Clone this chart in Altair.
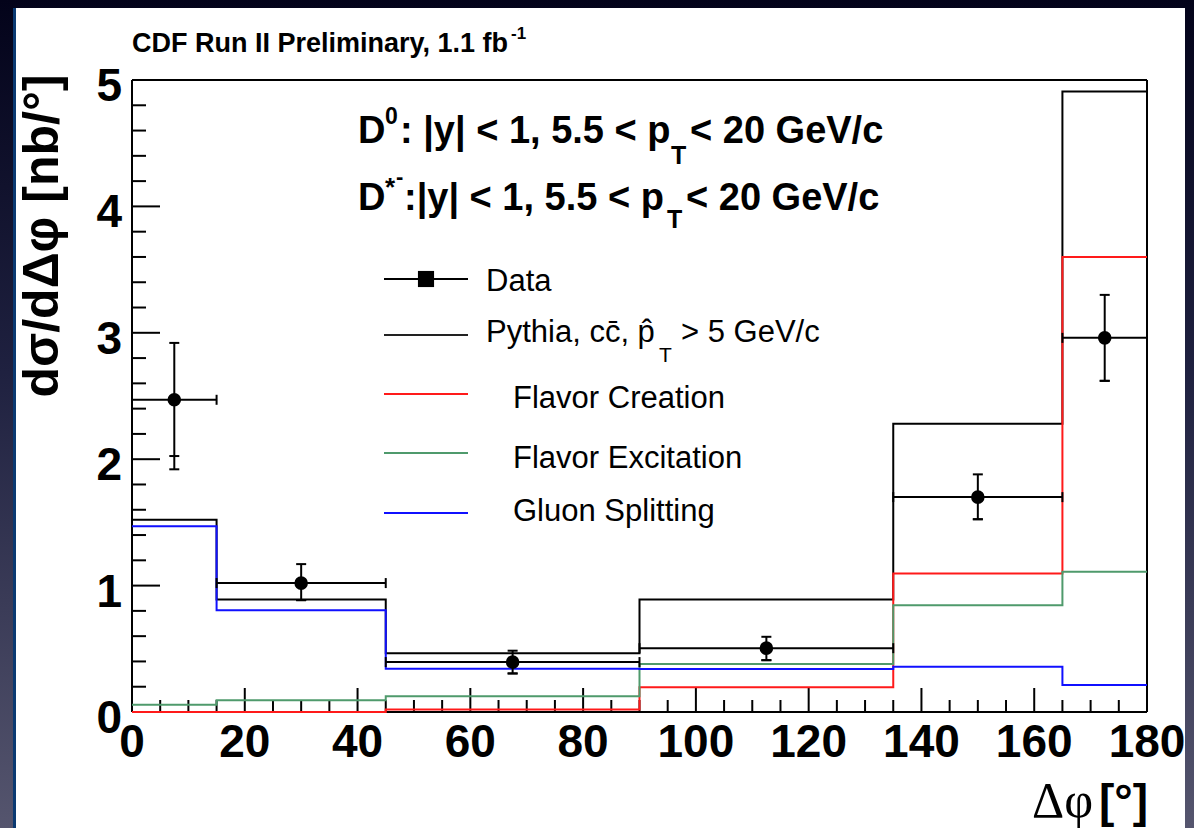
import altair as alt
import pandas as pd

SANS = "Liberation Sans, Arial, Helvetica, sans-serif"
SERIF = "Liberation Serif, Times New Roman, serif"

# Canvas and plot-area geometry (pixels)
CANVAS_W, CANVAS_H = 1194, 828
LEFT, TOP = 132, 80
W, H = 1015, 632

# Histogram binning in delta-phi (degrees)
bin_edges = [0, 15, 45, 90, 135, 165, 180]

# Pythia predictions per bin, d sigma / d delta-phi [nb/deg]
pythia_total = [1.52, 0.89, 0.465, 0.89, 2.28, 4.91]
flavor_creation = [0.0, 0.0, 0.02, 0.195, 1.095, 3.60]
flavor_excitation = [0.058, 0.093, 0.125, 0.38, 0.845, 1.11]
gluon_splitting = [1.47, 0.805, 0.343, 0.34, 0.358, 0.214]

# Measured cross section
data_x = [7.5, 30, 67.5, 112.5, 150, 172.5]
data_y = [2.47, 1.02, 0.395, 0.505, 1.70, 2.96]
data_hi = [2.92, 1.17, 0.485, 0.595, 1.88, 3.30]
data_lo = [2.025, 0.885, 0.305, 0.41, 1.525, 2.62]
data_lo_total = [1.92, 0.885, 0.305, 0.41, 1.525, 2.62]

# Axis ticks and their labels
x_tick_values = [0, 20, 40, 60, 80, 100, 120, 140, 160, 180]
x_tick_labels = ["0", "20", "40", "60", "80", "100", "120", "140", "160", "180"]
y_tick_values = [0, 1, 2, 3, 4, 5]
y_tick_labels = ["0", "1", "2", "3", "4", "5"]
x_minor_values = [v for v in range(5, 180, 5) if v % 20 != 0]
y_minor_values = [round(i * 0.2, 1) for i in range(1, 25) if i % 5 != 0]

COL_PYTHIA = "#000000"
COL_FC = "#ff1a1a"
COL_FE = "#4f9a6c"
COL_GS = "#1010ff"

xs = alt.Scale(domain=[0, 180], nice=False, zero=False)
ys = alt.Scale(domain=[0, 5], nice=False, zero=False)
one = pd.DataFrame({"k": [0]})


def px(x):
    return x - LEFT


def py(y):
    return y - TOP


def text(s, x, y, size, weight="normal", align="left", font=SANS, angle=0):
    return alt.Chart(one).mark_text(
        text=s, align=align, baseline="alphabetic", font=font,
        fontSize=size, fontWeight=weight, angle=angle, color="black",
    ).encode(x=alt.value(px(x)), y=alt.value(py(y)))


def box(x0, x1, y0, y1, fill):
    return alt.Chart(one).mark_rect(fill=fill, strokeWidth=0).encode(
        x=alt.value(px(x0)), x2=alt.value(px(x1)),
        y=alt.value(py(y0)), y2=alt.value(py(y1)),
    )


def hrule(x0, x1, y, color="black", width=2):
    return alt.Chart(one).mark_rule(color=color, strokeWidth=width).encode(
        x=alt.value(px(x0)), x2=alt.value(px(x1)), y=alt.value(py(y))
    )


# Slide background, accent strip and the white figure panel
gradient = {
    "gradient": "linear", "x1": 0, "y1": 0, "x2": 0, "y2": 1,
    "stops": [
        {"offset": 0, "color": "#03031a"},
        {"offset": 0.45, "color": "#1f2140"},
        {"offset": 1, "color": "#55556e"},
    ],
}
background = box(0, CANVAS_W, 0, CANVAS_H, gradient)
strip = box(13, 16, 8, CANVAS_H, "#0b3a72")
panel = box(16, 1185, 8, CANVAS_H, "#ffffff")

# Inward ticks on the bottom and left axes
x_major = alt.Chart(pd.DataFrame({"t": x_tick_values})).mark_rule(color="black", strokeWidth=2).encode(
    x=alt.X("t:Q", scale=xs, axis=None), y=alt.value(H), y2=alt.value(H - 24))
x_minor = alt.Chart(pd.DataFrame({"t": x_minor_values})).mark_rule(color="black", strokeWidth=2).encode(
    x=alt.X("t:Q", scale=xs, axis=None), y=alt.value(H), y2=alt.value(H - 12))
y_major = alt.Chart(pd.DataFrame({"t": y_tick_values})).mark_rule(color="black", strokeWidth=2).encode(
    y=alt.Y("t:Q", scale=ys, axis=None), x=alt.value(0), x2=alt.value(28))
y_minor = alt.Chart(pd.DataFrame({"t": y_minor_values})).mark_rule(color="black", strokeWidth=2).encode(
    y=alt.Y("t:Q", scale=ys, axis=None), x=alt.value(0), x2=alt.value(14))

# Tick labels placed through the same scales
x_labels = alt.Chart(pd.DataFrame({"t": x_tick_values, "lab": x_tick_labels})).mark_text(
    align="center", baseline="alphabetic", font=SANS, fontSize=46, fontWeight="bold", color="black",
).encode(x=alt.X("t:Q", scale=xs, axis=None), y=alt.value(py(757)), text="lab:N")
y_labels = alt.Chart(pd.DataFrame({"t": y_tick_values, "lab": y_tick_labels})).mark_text(
    align="right", baseline="alphabetic", font=SANS, fontSize=46, fontWeight="bold", color="black", dy=21,
).encode(y=alt.Y("t:Q", scale=ys, axis=None), x=alt.value(px(122)), text="lab:N")

frame = [
    alt.Chart(one).mark_rule(color="black", strokeWidth=2).encode(x=alt.value(0), x2=alt.value(W), y=alt.value(0)),
    alt.Chart(one).mark_rule(color="black", strokeWidth=2).encode(x=alt.value(0), x2=alt.value(W), y=alt.value(H)),
    alt.Chart(one).mark_rule(color="black", strokeWidth=2).encode(x=alt.value(0), y=alt.value(0), y2=alt.value(H)),
    alt.Chart(one).mark_rule(color="black", strokeWidth=2).encode(x=alt.value(W), y=alt.value(0), y2=alt.value(H)),
]


def hist_layer(values, color):
    df = pd.DataFrame({"dphi": bin_edges, "xsec": values + [values[-1]]})
    return alt.Chart(df).mark_line(interpolate="step-after", color=color, strokeWidth=2).encode(
        x=alt.X("dphi:Q", scale=xs, axis=None),
        y=alt.Y("xsec:Q", scale=ys, axis=None),
    )


hists = [
    hist_layer(pythia_total, COL_PYTHIA),
    hist_layer(flavor_creation, COL_FC),
    hist_layer(flavor_excitation, COL_FE),
    hist_layer(gluon_splitting, COL_GS),
]

pts = pd.DataFrame({
    "dphi": data_x, "xsec": data_y, "hi": data_hi, "lo": data_lo, "lo_tot": data_lo_total,
    "xlo": bin_edges[:-1], "xhi": bin_edges[1:],
})
base = alt.Chart(pts)
X = lambda f: alt.X(f"{f}:Q", scale=xs, axis=None)
Y = lambda f: alt.Y(f"{f}:Q", scale=ys, axis=None)
data_layers = [
    base.mark_rule(color="black", strokeWidth=2).encode(x=X("dphi"), y=Y("lo_tot"), y2="hi:Q"),
    base.mark_rule(color="black", strokeWidth=2).encode(x=X("xlo"), x2="xhi:Q", y=Y("xsec")),
    base.mark_rule(color="black", strokeWidth=2, xOffset=-5, x2Offset=5).encode(x=X("dphi"), x2="dphi:Q", y=Y("hi")),
    base.mark_rule(color="black", strokeWidth=2, xOffset=-5, x2Offset=5).encode(x=X("dphi"), x2="dphi:Q", y=Y("lo")),
    base.mark_rule(color="black", strokeWidth=2, xOffset=-5, x2Offset=5).encode(x=X("dphi"), x2="dphi:Q", y=Y("lo_tot")),
    base.mark_rule(color="black", strokeWidth=2, yOffset=-5, y2Offset=5).encode(x=X("xhi"), y=Y("xsec"), y2="xsec:Q"),
    base.mark_rule(color="black", strokeWidth=2, yOffset=-5, y2Offset=5).encode(x=X("xlo"), y=Y("xsec"), y2="xsec:Q"),
    base.mark_point(shape="circle", filled=True, size=185, color="black", opacity=1).encode(x=X("dphi"), y=Y("xsec")),
]

# Legend
LEG_X0, LEG_X1 = 384, 468
legend = [
    hrule(LEG_X0, LEG_X1, 279, "black"),
    alt.Chart(one).mark_point(shape="square", filled=True, size=260, color="black", opacity=1).encode(
        x=alt.value(px((LEG_X0 + LEG_X1) / 2)), y=alt.value(py(279))),
    text("Data", 486, 291, 31),
    hrule(LEG_X0, LEG_X1, 335, "#222222"),
    text("Pythia, cc\u0304, p\u0302", 486, 342, 31),
    text("T", 659, 362, 21),
    text("> 5 GeV/c", 681, 342, 31),
    hrule(LEG_X0, LEG_X1, 394, COL_FC),
    text("Flavor Creation", 513, 408, 31),
    hrule(LEG_X0, LEG_X1, 453, COL_FE),
    text("Flavor Excitation", 513, 468, 31),
    hrule(LEG_X0, LEG_X1, 513, COL_GS),
    text("Gluon Splitting", 513, 521, 31),
]

# Selection cuts
cuts = [
    text("D", 358, 143, 38, "bold"),
    text("0", 385, 124, 23, "bold"),
    text(": |y| < 1, 5.5 < p", 400, 143, 38, "bold"),
    text("T", 671, 164, 25, "bold"),
    text("< 20 GeV/c", 690, 143, 38, "bold"),
    text("D", 358, 210, 38, "bold"),
    text("*", 385, 196, 26, "bold"),
    text("-", 396, 184, 22, "bold"),
    text(":|y| < 1, 5.5 < p", 404, 210, 38, "bold"),
    text("T", 667, 228, 25, "bold"),
    text("< 20 GeV/c", 686, 210, 38, "bold"),
]

titles = [
    text("CDF Run II Preliminary, 1.1 fb", 132, 52, 27, "bold"),
    text("-1", 511, 39, 17, "bold"),
    text("d\u03c3/d\u0394\u03c6 [nb/\u00b0]", 58, 236, 50, "bold", align="center", angle=270),
    text("\u0394\u03c6", 1093, 817, 50, font=SERIF, align="right"),
    text("[\u00b0]", 1148, 817, 46, "bold", align="right"),
]

chart = alt.layer(
    background, strip, panel,
    x_major, x_minor, y_major, y_minor,
    *frame,
    *hists,
    *data_layers,
    x_labels, y_labels,
    *legend,
    *cuts,
    *titles,
).properties(
    width=W, height=H,
    padding={"left": LEFT, "top": TOP, "right": CANVAS_W - LEFT - W, "bottom": CANVAS_H - TOP - H},
    autosize=alt.AutoSizeParams(type="none"),
    background="#05051a",
).configure_view(strokeWidth=0)

chart.save("out.html", embed_options={"renderer": "svg", "actions": False})
